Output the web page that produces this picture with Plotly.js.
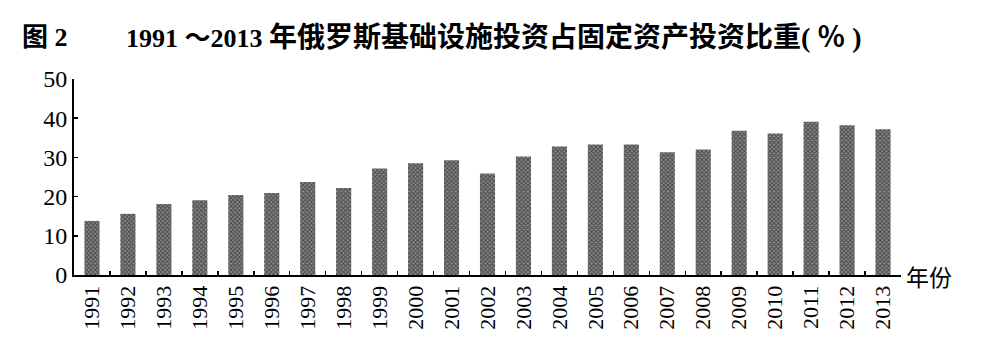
<!DOCTYPE html>
<html>
<head>
<meta charset="utf-8">
<script src="https://cdn.plot.ly/plotly-3.0.1.min.js"></script>
<style>html,body{margin:0;padding:0;background:#fff;}#chart{width:982px;height:344px;}</style>
</head>
<body>
<div id="chart"></div>
<script>
const years = ['1991','1992','1993','1994','1995','1996','1997','1998','1999','2000','2001','2002','2003','2004','2005','2006','2007','2008','2009','2010','2011','2012','2013'];
const shares = [13.8,15.6,18.1,19.1,20.4,20.9,23.7,22.2,27.2,28.5,29.3,25.9,30.2,32.8,33.3,33.3,31.3,32.0,36.8,36.1,39.1,38.2,37.2];
const yTicks = [0,10,20,30,40,50];
const titleLabel = '图 2';
const titleNum = '1991 ～2013 ';
const titleText = '年俄罗斯基础设施投资占固定资产投资比重( ％ )';
const xUnit = '年份';

const FONT = '"Liberation Serif", "Times New Roman", "Noto Sans CJK SC", serif';

const trace = {
  type: 'bar',
  x: years,
  y: shares,
  width: 0.42,
  marker: {
    color: '#fff',
    line: {width: 0},
    pattern: {shape: 'x', size: 3, solidity: 0.5, fgcolor: '#000', bgcolor: '#8a8a8a', fillmode: 'overlay'}
  },
  hoverinfo: 'skip'
};

const layout = {
  width: 982, height: 344,
  margin: {l: 74, r: 81, t: 79, b: 69},
  paper_bgcolor: '#fff', plot_bgcolor: '#fff',
  showlegend: false,
  bargap: 0.58,
  title: {
    text: '<b><span style="font-size:26px">' + titleNum + '</span>' + titleText + '</b>',
    font: {family: FONT, size: 28, color: '#000'},
    x: 126/982, xanchor: 'left', xref: 'container',
    y: 1 - 37/344, yanchor: 'middle', yref: 'container'
  },
  xaxis: {
    type: 'category',
    range: [-0.5, 22.5],
    showline: true, linecolor: '#000', linewidth: 2,
    ticks: 'inside', tickson: 'boundaries', ticklen: 4, tickwidth: 1.5, tickcolor: '#000',
    tickangle: -90,
    tickfont: {family: FONT, size: 22, color: '#000'},
    showgrid: false, zeroline: false, fixedrange: true
  },
  yaxis: {
    range: [0, 50],
    tickvals: yTicks,
    ticktext: yTicks.map(String),
    showline: true, linecolor: '#000', linewidth: 2,
    ticks: 'inside', ticklen: 4, tickwidth: 1.5, tickcolor: '#000',
    tickfont: {family: FONT, size: 24, color: '#000'},
    showgrid: false, zeroline: false, fixedrange: true
  },
  annotations: [
    {text: '<b>' + titleLabel + '</b>', xref: 'paper', yref: 'paper', x: (20-74)/827, y: 1 + (79-37)/196,
     xanchor: 'left', yanchor: 'middle', showarrow: false, font: {family: FONT, size: 26, color: '#000'}},
    {text: xUnit, xref: 'paper', yref: 'paper', x: 1, xshift: 3, y: 0, yshift: -3,
     xanchor: 'left', yanchor: 'middle', showarrow: false, font: {family: FONT, size: 23, color: '#000'}}
  ]
};

Plotly.newPlot('chart', [trace], layout, {displayModeBar: false, staticPlot: true});
</script>
</body>
</html>
